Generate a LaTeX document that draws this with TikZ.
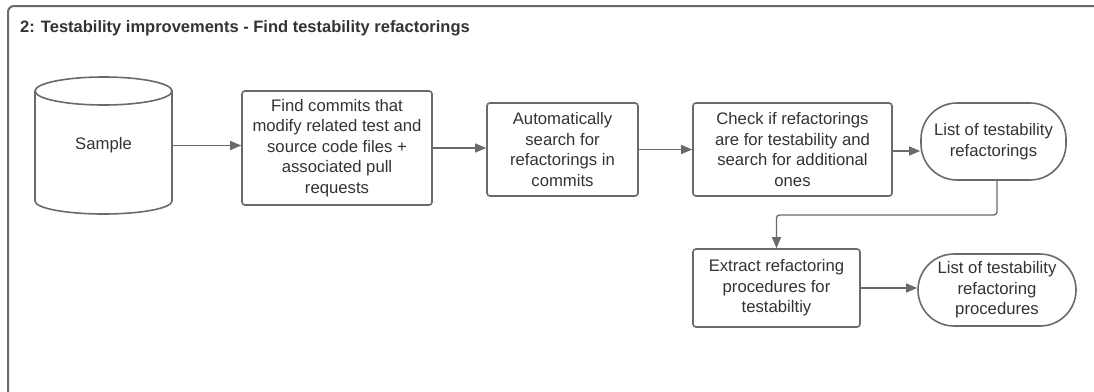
\documentclass[tikz,border=0pt]{standalone}
\usepackage{fontspec}
\setmainfont{Liberation Sans}
\usetikzlibrary{arrows.meta}
\definecolor{edge}{HTML}{6A6A6A}
\definecolor{ink}{HTML}{333333}
\begin{document}
\begin{tikzpicture}[x=1pt,y=1pt,
  every node/.style={text=ink, font=\fontsize{16.7}{20.5}\selectfont, align=center, inner sep=0pt},
  procbox/.style={draw=edge, line width=1.6pt, rounded corners=3pt},
  termbox/.style={draw=edge, line width=1.6pt, rounded corners=36pt},
  flow/.style={draw=edge, line width=1.3pt, -{Triangle[length=11pt,width=9pt]}},
  frame/.style={draw=edge, line width=2pt, rounded corners=6pt}]
\useasboundingbox (0,0) rectangle (1094,-391);
\fill[white] (0,0) rectangle (1094,-391);
% outer frame, running off the right and bottom edges
\draw[frame] (8,-400) -- (8,-6) -- (1110,-6);
\node[anchor=base west, font=\fontsize{16.5}{20}\bfseries] (title) at (20,-32) {2: Testability improvements - Find testability refactorings};

% data store
\node[minimum width=137pt, minimum height=138pt] (sample) at (103.5,-145.5) {Sample};
\draw[edge, line width=1.6pt] (35,-91) -- (35,-201) arc[start angle=180, end angle=360, x radius=68.5, y radius=13] -- (172,-91);
\draw[edge, line width=1.6pt] (103.5,-91) ellipse[x radius=68.5, y radius=14];

% process steps
\node[procbox, minimum width=190pt, minimum height=114pt] (commits) at (337,-148)
  {Find commits that\\modify related test and\\source code files +\\associated pull\\requests};
\node[procbox, minimum width=151pt, minimum height=93pt] (search) at (562.5,-149.5)
  {Automatically\\search for\\refactorings in\\commits};
\node[procbox, minimum width=199pt, minimum height=93pt] (check) at (792.5,-149.5)
  {Check if refactorings\\are for testability and\\search for additional\\ones};
\node[termbox, minimum width=145pt, minimum height=77pt] (list) at (993.5,-141.5)
  {List of testability\\refactorings};
\node[procbox, minimum width=167pt, minimum height=78pt] (extract) at (776.5,-288)
  {Extract refactoring\\procedures for\\testabiltiy};
\node[termbox, minimum width=158pt, minimum height=72pt] (procs) at (997,-290)
  {List of testability\\refactoring\\procedures};

% connectors
\coordinate (bend) at (997,-215);
\draw[flow] (sample.east) -- (sample.east -| commits.west);
\draw[flow] (commits.east) -- (commits.east -| search.west);
\draw[flow] (search.east) -- (search.east -| check.west);
\draw[flow] ([yshift=-1.5pt]check.east) -- ([yshift=-1.5pt]check.east -| list.west);
\draw[flow, rounded corners=3pt] (list.south -| bend) -- (bend) -- (bend -| extract.north) -- (extract.north);
\draw[flow] (extract.east) -- (extract.east -| procs.west);
\end{tikzpicture}
\end{document}
